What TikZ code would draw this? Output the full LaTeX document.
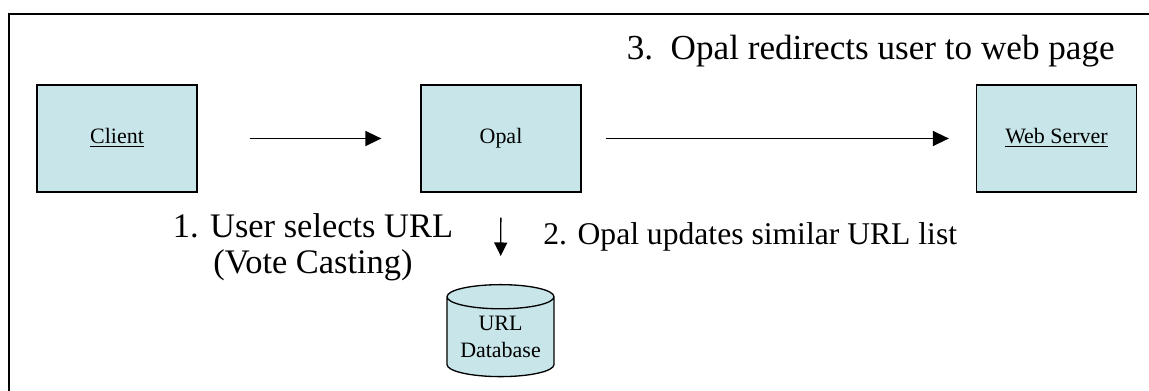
\documentclass[tikz,border=0pt]{standalone}
\usepackage{fontspec}
\setmainfont{Liberation Serif}
\usepackage{tikz}
\usetikzlibrary{arrows.meta,shapes.geometric}
\definecolor{paleblue}{RGB}{200,230,233}

\begin{document}
\begin{tikzpicture}[x=0.02cm,y=-0.02cm]

		\tikzset{
		    server/.style={draw, line width=0.75pt, fill=paleblue, minimum width=3.2cm,
		        minimum height=2.14cm, inner sep=0pt, text height=9pt, text depth=3pt,
		        font=\fontsize{12.5}{14}\selectfont},
		    flow/.style={line width=0.9pt, -{Triangle[length=0.32cm, width=0.3cm]}},
		    caption/.style={font=\fontsize{19.6}{20.5}\selectfont, inner sep=0pt}
		}

		\useasboundingbox (0,0) rectangle (1149,391);

		% frame
		\draw[line width=1.3pt] (9,391) -- (9,14) -- (1149,14);

		% boxes
		\node[server] (client) at (117,138.5) {\underline{Client}};
		\node[server] (opal) at (501,138.5) {Opal};
		\node[server] (web) at (1056.5,138.5) {\underline{Web Server}};

		\node[draw, line width=0.75pt, fill=paleblue, cylinder, shape border rotate=90, aspect=0.3,
		    minimum width=2.14cm, minimum height=1.84cm, inner sep=0pt, align=center,
		    font=\fontsize{12.5}{15}\selectfont] (db) at (500.5,337) {URL\\Database};

		% arrows
		\draw[flow, shorten <=1.04cm, shorten >=0.78cm] (client) -- (opal);
		\draw[flow, shorten <=0.48cm, shorten >=0.54cm] (opal) -- (web);
		\draw[flow, line width=0.8pt, -{Triangle[length=0.27cm, width=0.26cm]}, shorten <=0.5cm, shorten >=0.56cm] (opal) -- (db);

		% markings and text
		\node[caption, font=\fontsize{20}{21}\selectfont, anchor=base east] (redirect) at (1115,60) {3.\ \ Opal redirects user to web page};
		\node[caption, align=center] (select) at (313,247) {1. User selects URL\\(Vote Casting)};
		\node[caption, font=\fontsize{18}{19}\selectfont, anchor=base west] (update) at (543,245) {2. Opal updates similar URL list};

\end{tikzpicture}
\end{document}
